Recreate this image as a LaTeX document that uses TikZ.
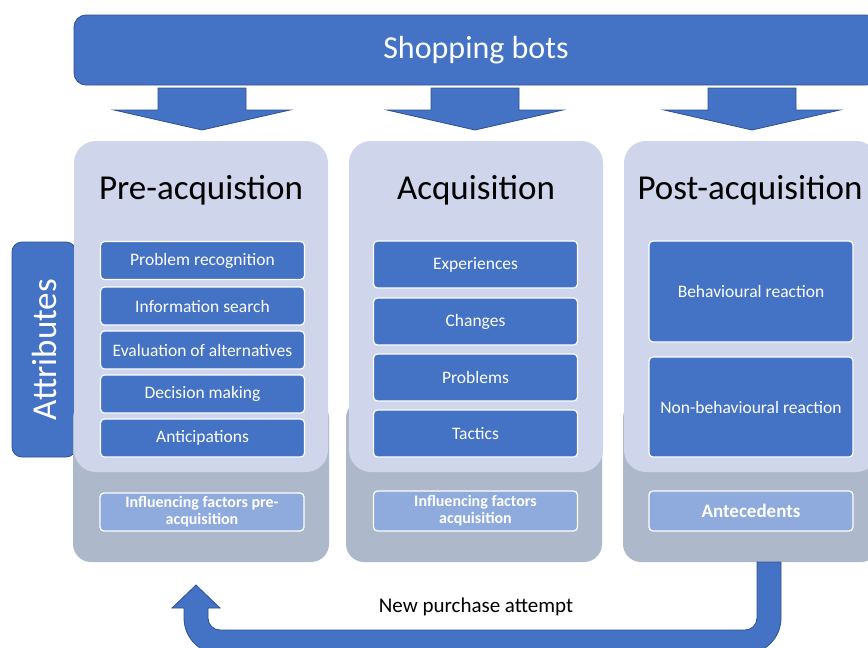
\documentclass[tikz,border=0pt]{standalone}
\usepackage{fontspec}
\setmainfont{Carlito}
\usetikzlibrary{positioning}

\definecolor{botblue}{HTML}{4472C4}
\definecolor{botedge}{HTML}{2F528F}
\definecolor{phaselight}{HTML}{CFD5EA}
\definecolor{phasegray}{HTML}{ADB9CA}
\definecolor{factorblue}{HTML}{8FAADC}

% block arrow from the banner down into a phase, #1 = centre x
\newcommand{\phasearrow}[1]{\draw[flowarrow] (#1-44,88) -- (#1+44,88) -- (#1+44,110) -- (#1+88,110) -- (#1,130) -- (#1-88,110) -- (#1-44,110) -- cycle}

\begin{document}
\begin{tikzpicture}[x=1pt,y=-1pt,
  banner/.style={draw=botedge,line width=0.8pt,fill=botblue,rounded corners=12pt,text=white,
    font=\fontsize{32}{36}\selectfont,minimum width=804pt,minimum height=70pt,inner sep=0pt},
  phasepanel/.style={fill=phaselight,rounded corners=22pt,minimum width=254pt,minimum height=331pt,inner sep=0pt},
  phasebase/.style={fill=phasegray,rounded corners=18pt,minimum width=256pt,minimum height=162pt,inner sep=0pt},
  phasetitle/.style={font=\fontsize{35}{40}\selectfont,inner sep=0pt},
  stepbox/.style={draw=white,line width=1.2pt,fill=botblue,rounded corners=4pt,text=white,
    minimum width=204pt,font=\fontsize{17.5}{20}\selectfont,inner sep=0pt},
  factorbox/.style={draw=white,line width=1.2pt,fill=factorblue,rounded corners=4pt,text=white,
    minimum width=204pt,align=center,font=\bfseries\fontsize{16}{17}\selectfont,inner sep=0pt},
  flowarrow/.style={draw=botedge,line width=0.8pt,fill=botblue}]

\useasboundingbox (0,0) rectangle (868,648);
\clip (0,0) rectangle (868,648);

\node[banner] (bots) at (476,50) {Shopping bots};
\phasearrow{202};
\phasearrow{475};
\phasearrow{752};

% attributes tab behind the first phase
\node[draw=botedge,line width=0.8pt,fill=botblue,rounded corners=10pt,minimum width=64pt,
  minimum height=215pt,inner sep=0pt] (attr) at (44,349.5) {};
\node[rotate=90,text=white,font=\fontsize{35}{38}\selectfont] (attrtext) at (attr.center) {Attributes};

% phase panels
\node[phasebase] (prebase) at (201,481) {};
\node[phasebase] (acqbase) at (474,481) {};
\node[phasebase] (postbase) at (751,481) {};
\node[phasepanel] (pre) at (201,306.5) {};
\node[phasepanel] (acq) at (476,306.5) {};
\node[phasepanel] (post) at (751,306.5) {};

\node[phasetitle] (pretitle) at (201,190) {Pre-acquistion};
\node[phasetitle] (acqtitle) at (476,190) {Acquisition};
\node[phasetitle] (posttitle) at (750,190) {Post-acquisition};

% pre-acquisition steps
\node[stepbox,minimum height=38pt] (recog) at (202.5,260.5) {Problem recognition};
\node[stepbox,minimum height=38pt] (search) at (202.5,306) {Information search};
\node[stepbox,minimum height=38pt] (evalalt) at (202.5,350) {Evaluation of alternatives};
\node[stepbox,minimum height=38pt] (decide) at (202.5,394) {Decision making};
\node[stepbox,minimum height=38pt] (anticip) at (202.5,438) {Anticipations};

% acquisition steps
\node[stepbox,minimum height=47pt] (exper) at (475.5,264.5) {Experiences};
\node[stepbox,minimum height=47pt] (change) at (475.5,321.5) {Changes};
\node[stepbox,minimum height=47pt] (probl) at (475.5,377.5) {Problems};
\node[stepbox,minimum height=47pt] (tactic) at (475.5,433.5) {Tactics};

% post-acquisition steps
\node[stepbox,minimum height=101pt] (behav) at (751,291.5) {Behavioural reaction};
\node[stepbox,minimum height=100pt] (nonbehav) at (751,407) {Non-behavioural reaction};

% influencing factors
\node[factorbox,minimum height=38pt] (prefact) at (202,512) {Influencing factors pre-\\acquisition};
\node[factorbox,minimum height=40pt] (acqfact) at (475.5,511) {Influencing factors\\acquisition};
\node[factorbox,minimum height=40pt,font=\bfseries\fontsize{19}{21}\selectfont] (antec) at (751,511) {Antecedents};

% loop back to the first phase
\draw[flowarrow] (757,562) [rounded corners=12pt] -- (757,630) -- (208,630) [sharp corners] -- (208,608)
  -- (220,608) -- (196,585) -- (172,608) -- (184,608) [rounded corners=36pt] -- (184,654)
  -- (781,654) [sharp corners] -- (781,562) -- cycle;
\node[font=\fontsize{21}{24}\selectfont] (again) at (476,607) {New purchase attempt};

\end{tikzpicture}
\end{document}
